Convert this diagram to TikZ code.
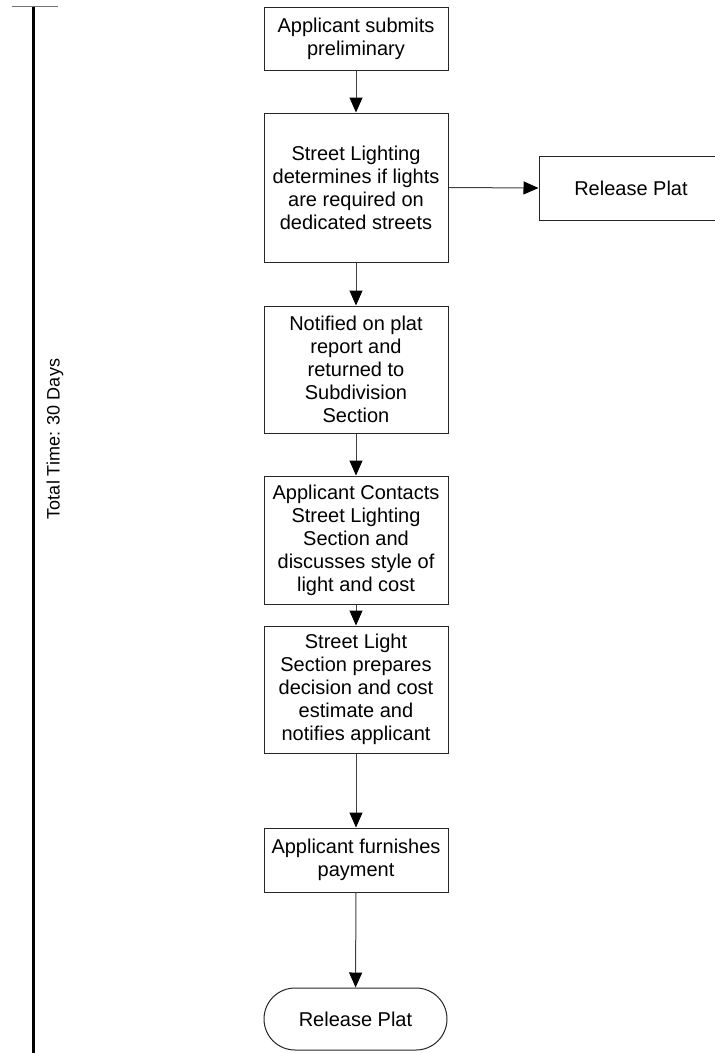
\documentclass[tikz,border=0pt]{standalone}
\usepackage{fontspec}
\setmainfont{Liberation Sans}
\usetikzlibrary{arrows.meta}
\begin{document}
\begin{tikzpicture}[x=1pt,y=-1pt,
  every node/.style={font=\fontsize{20}{23}\selectfont},
  proc/.style={draw=black!85,line width=1pt,minimum width=184pt,inner sep=0pt,align=center},
  term/.style={draw=black!85,line width=1pt,minimum width=183pt,minimum height=62pt,rounded corners=31pt,inner sep=0pt},
  flow/.style={draw=black!75,line width=1pt,-{Triangle[length=15pt,width=13pt,color=black]}}]
\useasboundingbox (0,0) rectangle (715,1053);
\clip (0,0) rectangle (715,1053);

% timeline bar on the left
\draw[line width=3pt,black] (33,6) -- (33,1053);
\draw[line width=1.5pt,black!55] (12,6.5) -- (58,6.5);
\node[rotate=90,font=\fontsize{18}{21}\selectfont] (total) at (55,439) {Total Time: 30 Days};

% process steps
\node[proc,minimum height=63pt] (s1) at (356,38.5) {Applicant submits\\preliminary};
\node[proc,minimum height=149pt] (s2) at (356,187.5) {Street Lighting\\determines if lights\\are required on\\dedicated streets};
\node[proc,minimum width=200pt,minimum height=64pt] (rel) at (639,188) {\hspace*{-16pt}Release Plat};
\node[proc,minimum height=127pt] (s3) at (356,369.5) {Notified on plat\\report and\\returned to\\Subdivision\\Section};
\node[proc,minimum height=128pt] (s4) at (356,540) {Applicant Contacts\\Street Lighting\\Section and\\discusses style of\\light and cost};
\node[proc,minimum height=127pt] (s5) at (356,689.5) {Street Light\\Section prepares\\decision and cost\\estimate and\\notifies applicant};
\node[proc,minimum height=64pt] (s6) at (356,860) {Applicant furnishes\\payment};
\node[term] (end) at (355.5,1019) {Release Plat};

% connectors
\draw[flow] (s1) -- (s2);
\draw[flow] (s2.east) -- (rel.west);
\draw[flow] (s2) -- (s3);
\draw[flow] (s3) -- (s4);
\draw[flow] (s4) -- (s5);
\draw[flow] (s5) -- (s6);
\draw[flow] (s6) -- (end);
\end{tikzpicture}
\end{document}
